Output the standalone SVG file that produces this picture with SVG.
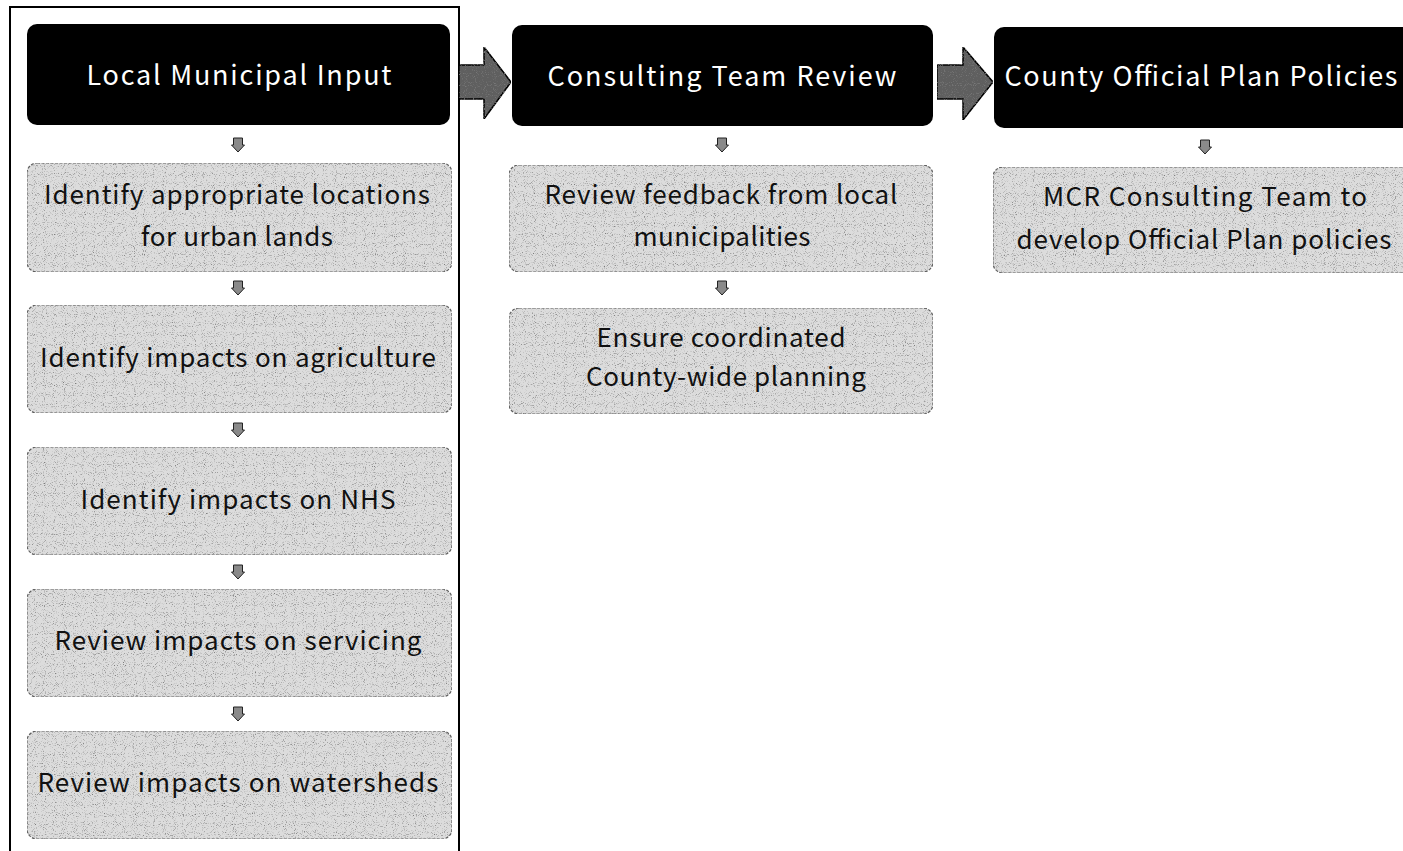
<svg xmlns="http://www.w3.org/2000/svg" width="1403" height="851" viewBox="0 0 1403 851">
<style>
  .hdr { fill: #000; }
  .htxt { fill: #fff; font-family: "Noto Sans CJK JP", "Noto Sans", sans-serif; font-size: 27px; text-anchor: middle; }
  .box { fill: #dcdcdc; stroke: #5e5e5e; stroke-width: 1.2; stroke-dasharray: 3 1.5; }
  .btxt { fill: #111; font-family: "Noto Sans CJK JP", "Noto Sans", sans-serif; font-size: 26px; text-anchor: middle; }
  .bigarrow { fill: #5e5e5e; stroke: #000; stroke-width: 1.5; }
  .smallarrow { fill: #8a8a8a; stroke: #222; stroke-width: 1; }
  .frame { fill: none; stroke: #000; stroke-width: 2; }
</style>
<defs>
  <filter id="speckle" x="0" y="0" width="100%" height="100%">
    <feTurbulence type="fractalNoise" baseFrequency="1.1" numOctaves="1" seed="5" result="n"/>
    <feColorMatrix in="n" type="matrix" values="0 0 0 0 0.2  0 0 0 0 0.2  0 0 0 0 0.2  4 0 0 0 -2.2" result="dots"/>
    <feComposite in="dots" in2="SourceAlpha" operator="in" result="d2"/>
    <feMerge><feMergeNode in="SourceGraphic"/><feMergeNode in="d2"/></feMerge>
  </filter>
  <g id="sa"><path class="smallarrow" d="M-4.5,-7 H4.5 V0 H6.5 L0,7 L-6.5,0 H-4.5 Z"/></g>
</defs>
<rect width="1403" height="851" fill="#fff"/>

<path class="frame" d="M10,852 V7 H459 V852"/>

<g id="connectors">
  <path class="bigarrow" filter="url(#speckle)" d="M459,65 H484 V47 L511,82 L484,119 V99 H459 Z"/>
  <path class="bigarrow" filter="url(#speckle)" d="M937,65 H963 V47 L993,82 L963,120 V99 H937 Z"/>
  <use href="#sa" x="238" y="145"/>
  <use href="#sa" x="238" y="288"/>
  <use href="#sa" x="238" y="430"/>
  <use href="#sa" x="238" y="572"/>
  <use href="#sa" x="238" y="714"/>
  <use href="#sa" x="722" y="145"/>
  <use href="#sa" x="722" y="288"/>
  <use href="#sa" x="1205" y="147"/>
</g>

<g id="h1">
  <rect class="hdr" x="27" y="24" width="423" height="101" rx="10"/>
  <text class="htxt" x="239" y="85" textLength="305" lengthAdjust="spacing">Local Municipal Input</text>
</g>
<g id="h2">
  <rect class="hdr" x="512" y="25" width="421" height="101" rx="10"/>
  <text class="htxt" x="722" y="86" textLength="349" lengthAdjust="spacing">Consulting Team Review</text>
</g>
<g id="h3">
  <rect class="hdr" x="994" y="27" width="420" height="101" rx="10"/>
  <text class="htxt" x="1201" y="86" textLength="393" lengthAdjust="spacing">County Official Plan Policies</text>
</g>

<g id="b1">
  <rect class="box" filter="url(#speckle)" x="27" y="163" width="425" height="109" rx="10"/>
  <text class="btxt" x="237" y="204" textLength="386" lengthAdjust="spacing">Identify appropriate locations</text>
  <text class="btxt" x="237" y="246" textLength="192" lengthAdjust="spacing">for urban lands</text>
</g>
<g id="b2">
  <rect class="box" filter="url(#speckle)" x="27" y="305" width="425" height="108" rx="10"/>
  <text class="btxt" x="238" y="367" textLength="396" lengthAdjust="spacing">Identify impacts on agriculture</text>
</g>
<g id="b3">
  <rect class="box" filter="url(#speckle)" x="27" y="447" width="425" height="108" rx="10"/>
  <text class="btxt" x="238" y="509" textLength="315" lengthAdjust="spacing">Identify impacts on NHS</text>
</g>
<g id="b4">
  <rect class="box" filter="url(#speckle)" x="27" y="589" width="425" height="108" rx="10"/>
  <text class="btxt" x="238" y="650" textLength="367" lengthAdjust="spacing">Review impacts on servicing</text>
</g>
<g id="b5">
  <rect class="box" filter="url(#speckle)" x="27" y="731" width="425" height="108" rx="10"/>
  <text class="btxt" x="238" y="792" textLength="401" lengthAdjust="spacing">Review impacts on watersheds</text>
</g>

<g id="c1">
  <rect class="box" filter="url(#speckle)" x="509" y="165" width="424" height="107" rx="10"/>
  <text class="btxt" x="721" y="204" textLength="353" lengthAdjust="spacing">Review feedback from local</text>
  <text class="btxt" x="722" y="246" textLength="177" lengthAdjust="spacing">municipalities</text>
</g>
<g id="c2">
  <rect class="box" filter="url(#speckle)" x="509" y="308" width="424" height="106" rx="10"/>
  <text class="btxt" x="721" y="347" textLength="249" lengthAdjust="spacing">Ensure coordinated</text>
  <text class="btxt" x="726" y="386" textLength="280" lengthAdjust="spacing">County-wide planning</text>
</g>

<g id="d1">
  <rect class="box" filter="url(#speckle)" x="993" y="167" width="420" height="106" rx="10"/>
  <text class="btxt" x="1205" y="206" textLength="324" lengthAdjust="spacing">MCR Consulting Team to</text>
  <text class="btxt" x="1204" y="249" textLength="375" lengthAdjust="spacing">develop Official Plan policies</text>
</g>
</svg>
